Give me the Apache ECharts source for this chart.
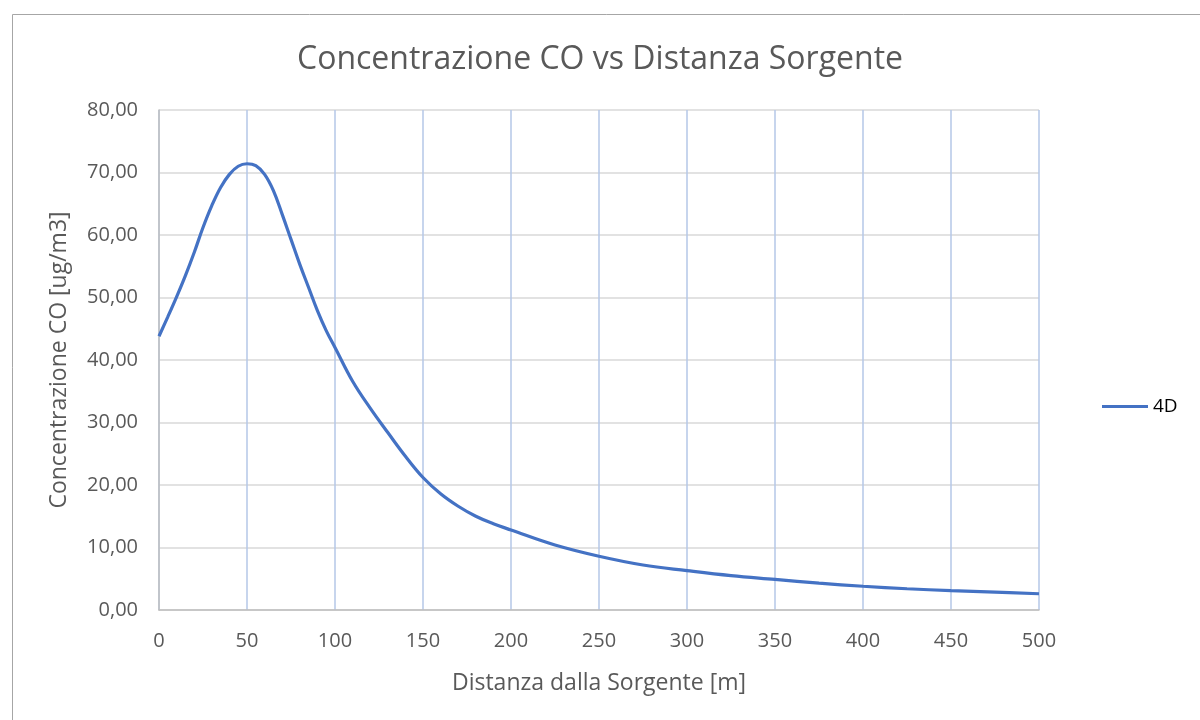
<!DOCTYPE html>
<html>
<head>
<meta charset="utf-8">
<script src="https://cdn.jsdelivr.net/npm/echarts@6/dist/echarts.min.js"></script>
<style>html,body{margin:0;padding:0;background:#fff;}#chart{width:1200px;height:720px;}</style>
</head>
<body>
<div id="chart"></div>
<script>
const distances = [0,5,10,15,20,25,30,35,40,45,50,55,60,65,70,75,80,85,90,95,100,110,120,130,140,150,160,170,180,190,200,225,250,275,300,325,350,375,400,425,450,475,500];
const concentrations = [43.8,46.9,50.1,53.5,57.2,61.2,64.7,67.6,69.7,71.0,71.4,71.1,69.7,67.1,63.3,59.3,55.3,51.6,47.9,44.7,42.0,36.6,32.3,28.4,24.6,21.2,18.6,16.6,15.0,13.8,12.8,10.4,8.6,7.2,6.3,5.5,4.9,4.3,3.8,3.4,3.1,2.85,2.6];
const seriesName = '4D';
const titleText = 'Concentrazione CO vs Distanza Sorgente';
const xName = 'Distanza dalla Sorgente [m]';
const yName = 'Concentrazione CO [ug/m3]';

const font = 'Open Sans, Liberation Sans, sans-serif';
const chart = echarts.init(document.getElementById('chart'));
chart.setOption({
  animation: false,
  backgroundColor: '#fff',
  graphic: [{
    type: 'rect', left: 10, top: 12,
    shape: { width: 1200, height: 720 },
    style: { fill: 'none', stroke: '#A6A6A6', lineWidth: 1 }
  }],
  title: {
    text: titleText, left: 'center', top: 39,
    textStyle: { fontFamily: font, fontSize: 32, fontWeight: 'normal', color: '#595959' }
  },
  legend: {
    data: [seriesName], orient: 'vertical', left: 1097, top: 392,
    icon: 'rect', itemWidth: 46, itemHeight: 3, itemGap: 0,
    textStyle: { fontFamily: font, fontSize: 19, color: '#000' }
  },
  grid: { left: 159, right: 161, top: 110, bottom: 110, containLabel: false },
  xAxis: {
    type: 'value', min: 0, max: 500, interval: 50,
    name: xName, nameLocation: 'middle', nameGap: 62,
    nameTextStyle: { fontFamily: font, fontSize: 23, color: '#595959' },
    axisLine: { show: true, lineStyle: { color: '#BFBFBF', width: 1.5 } },
    axisTick: { show: false },
    axisLabel: { fontFamily: font, fontSize: 20, color: '#595959', margin: 21 },
    splitLine: { show: true, lineStyle: { color: '#B4C7E7', width: 1.5 } }
  },
  yAxis: {
    type: 'value', min: 0, max: 80, interval: 10,
    name: yName, nameLocation: 'middle', nameGap: 88,
    nameTextStyle: { fontFamily: font, fontSize: 23, color: '#595959' },
    axisLine: { show: true, lineStyle: { color: '#BFBFBF', width: 1.5 } },
    axisTick: { show: false },
    axisLabel: { fontFamily: font, fontSize: 20, color: '#595959', margin: 21,
      formatter: v => v.toFixed(2).replace('.', ',') },
    splitLine: { show: true, lineStyle: { color: '#D9D9D9', width: 1.5 } }
  },
  series: [{
    name: seriesName, type: 'line', smooth: 0.4, showSymbol: false,
    data: distances.map((d, i) => [d, concentrations[i]]),
    lineStyle: { color: '#4472C4', width: 3.2 },
    itemStyle: { color: '#4472C4' }
  }]
});
</script>
</body>
</html>
